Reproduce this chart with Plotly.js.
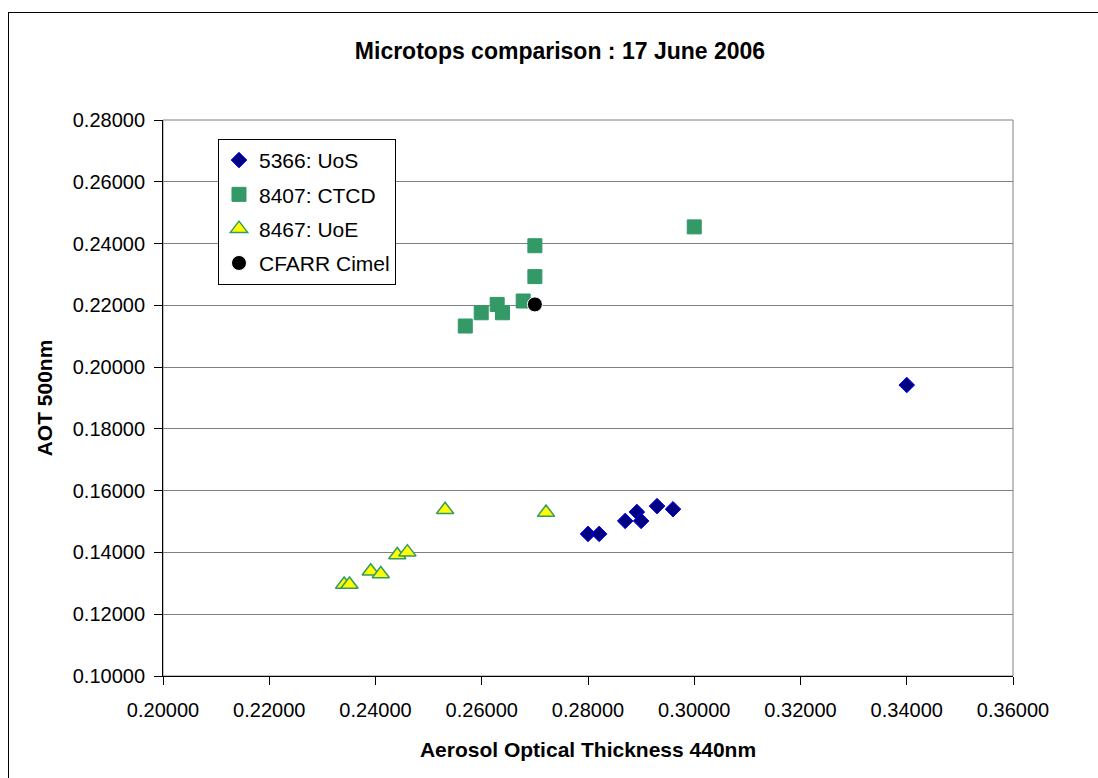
<!DOCTYPE html>
<html>
<head>
<meta charset="utf-8">
<script src="https://cdn.plot.ly/plotly-3.0.1.min.js"></script>
<style>
html,body{margin:0;padding:0;background:#fff;overflow:hidden;}
#wrap{position:relative;width:1098px;height:778px;}
#frame{position:absolute;left:8px;top:12px;width:1200px;height:900px;border-left:1px solid #000;border-top:1px solid #000;pointer-events:none;}
#chart{position:absolute;left:0;top:0;width:1098px;height:778px;}
</style>
</head>
<body>
<div id="wrap">
<div id="chart"></div>
<div id="frame"></div>
</div>
<script>
// Series 5366: UoS
const uosX = [0.2800, 0.2821, 0.2870, 0.2892, 0.2900, 0.2930, 0.2960, 0.3400];
const uosY = [0.1460, 0.1460, 0.1502, 0.1531, 0.1502, 0.1550, 0.1540, 0.1942];
// Series 8407: CTCD
const ctcdX = [0.2569, 0.2599, 0.2629, 0.2639, 0.2678, 0.2700, 0.2700, 0.3000];
const ctcdY = [0.2133, 0.2176, 0.2203, 0.2176, 0.2214, 0.2293, 0.2393, 0.2454];
// Series 8467: UoE
const uoeX = [0.2341, 0.2351, 0.2391, 0.2410, 0.2441, 0.2460, 0.2531, 0.2721];
const uoeY = [0.1296, 0.1296, 0.1339, 0.1330, 0.1392, 0.1401, 0.1538, 0.1529];
// CFARR Cimel
const cimelX = [0.2700];
const cimelY = [0.2203];

const seriesNames = ['5366: UoS', '8407: CTCD', '8467: UoE', 'CFARR Cimel'];
const xTitle = 'Aerosol Optical Thickness 440nm';
const yTitle = 'AOT 500nm';
const chartTitle = 'Microtops comparison : 17 June 2006';

const FONT = 'Liberation Sans, Arial, sans-serif';

const traces = [
  {x: uosX, y: uosY, name: seriesNames[0], legendgroup: 'a', type: 'scatter', mode: 'markers',
   marker: {symbol: 'diamond', size: 12, color: '#000080', line: {color: '#0000FF', width: 1}}},
  {x: ctcdX, y: ctcdY, name: seriesNames[1], legendgroup: 'b', type: 'scatter', mode: 'markers',
   marker: {symbol: 'square', size: 14, color: '#339966', line: {color: '#339966', width: 1}}},
  {x: uoeX, y: uoeY, name: seriesNames[2], legendgroup: 'c', type: 'scatter', mode: 'markers',
   marker: {symbol: 'triangle-up', size: 15, color: '#FFFF00', line: {color: '#339966', width: 1.5}}},
  {x: cimelX, y: cimelY, name: seriesNames[3], legendgroup: 'd', type: 'scatter', mode: 'markers',
   marker: {symbol: 'circle', size: 15, color: '#000000', line: {color: '#ffffff', width: 1}}}
];

const layout = {
  width: 1098, height: 778,
  margin: {l: 163, r: 85, t: 120, b: 102},
  paper_bgcolor: '#ffffff', plot_bgcolor: '#ffffff',
  font: {family: FONT, color: '#000', size: 20},
  title: {text: chartTitle, font: {family: FONT, size: 23, color: '#000', weight: 'bold'},
          x: 0.51, xanchor: 'center', y: 0.935, yanchor: 'middle'},
  xaxis: {
    range: [0.2, 0.36], dtick: 0.02, tick0: 0.2, tickformat: '.5f',
    showgrid: false, zeroline: false,
    showline: true, linecolor: '#000', linewidth: 1,
    ticks: 'outside', ticklen: 8, tickcolor: '#000',
    ticklabelstandoff: 8,
    tickfont: {size: 20, family: FONT},
    title: {text: xTitle, font: {size: 21, family: FONT, weight: 'bold'}, standoff: 22},
    automargin: false
  },
  yaxis: {
    range: [0.1, 0.28], dtick: 0.02, tick0: 0.1, tickformat: '.5f',
    showgrid: true, gridcolor: '#808080', gridwidth: 1, zeroline: false,
    showline: true, linecolor: '#000', linewidth: 1,
    ticks: 'outside', ticklen: 8, tickcolor: '#000',
    ticklabelstandoff: 5,
    tickfont: {size: 20, family: FONT},
    title: {text: yTitle, font: {size: 21, family: FONT, weight: 'bold'}, standoff: 14},
    automargin: false
  },
  shapes: [
    {type: 'rect', xref: 'paper', yref: 'paper', x0: 0, x1: 1, y0: 0, y1: 1,
     line: {color: '#808080', width: 1}, layer: 'below'}
  ],
  showlegend: true,
  legend: {
    x: 0.0647, y: 0.966, xanchor: 'left', yanchor: 'top',
    bgcolor: '#ffffff', bordercolor: '#000', borderwidth: 1,
    font: {size: 21, family: FONT, color: '#000'},
    tracegroupgap: 4
  }
};

Plotly.newPlot('chart', traces, layout, {displayModeBar: false, staticPlot: true});
</script>
</body>
</html>
